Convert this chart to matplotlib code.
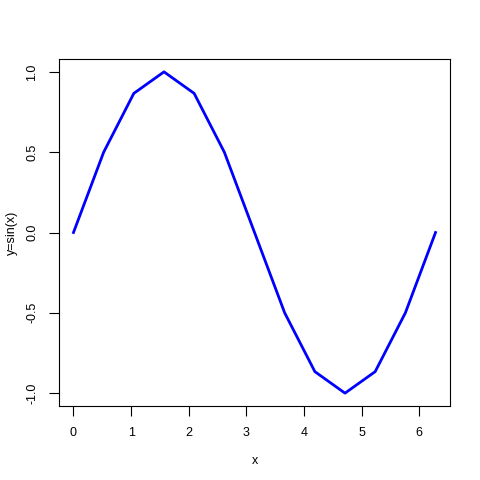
import matplotlib
matplotlib.use('Agg')
import matplotlib.pyplot as plt

# values
x = [0.0, 0.524, 1.047, 1.571, 2.094, 2.618, 3.142, 3.665, 4.189, 4.712, 5.236, 5.760, 6.283]
y = [0.0, 0.5, 0.866, 1.0, 0.866, 0.5, 0.0, -0.5, -0.866, -1.0, -0.866, -0.5, 0.0]
xticks = [0, 1, 2, 3, 4, 5, 6]
yticks = [-1.0, -0.5, 0.0, 0.5, 1.0]

plt.rcParams['font.family'] = ['Liberation Sans', 'DejaVu Sans']
plt.rcParams['font.size'] = 9

fig = plt.figure(figsize=(4.8, 4.8), dpi=100)
ax = fig.add_axes([59 / 480, 1 - 406 / 480, (450 - 59) / 480, (406 - 59) / 480])

ax.plot(x, y, color='blue', linewidth=2.0)

ext_x = (max(x) - min(x)) * 0.04
ext_y = (max(y) - min(y)) * 0.04
ax.set_xlim(min(x) - ext_x, max(x) + ext_x)
ax.set_ylim(min(y) - ext_y, max(y) + ext_y)

ax.set_xticks(xticks)
ax.set_xticklabels([str(t) for t in xticks])
ax.set_yticks(yticks)
ax.set_yticklabels(['%.1f' % t for t in yticks], rotation=90, va='center')
ax.tick_params(direction='out', length=7, width=0.8, pad=8)

ax.set_xlabel('x', labelpad=12)
ax.set_ylabel('y=sin(x)', labelpad=6)

fig.savefig('out.png', dpi=100)
